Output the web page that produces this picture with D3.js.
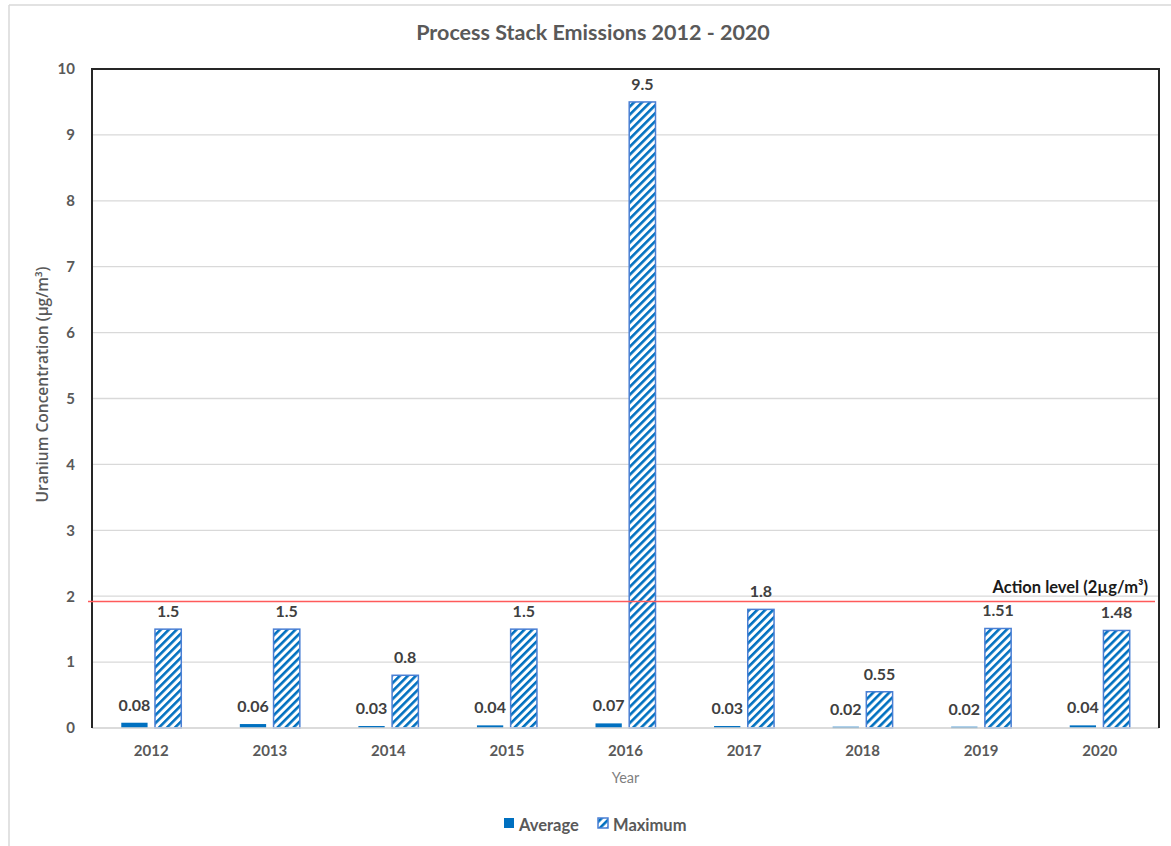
<!DOCTYPE html>
<html>
<head>
<meta charset="utf-8">
<script src="https://cdn.jsdelivr.net/npm/d3@7"></script>
<style>
  body { margin: 0; background: #fff; }
  text { font-family: Lato, "Open Sans", sans-serif; }
</style>
</head>
<body>
<div id="chart"></div>
<script>
// chart data
var years = ["2012", "2013", "2014", "2015", "2016", "2017", "2018", "2019", "2020"];
var averageValues = [0.08, 0.06, 0.03, 0.04, 0.07, 0.03, 0.02, 0.02, 0.04];
var maximumValues = [1.5, 1.5, 0.8, 1.5, 9.5, 1.8, 0.55, 1.51, 1.48];
var seriesNames = ["Average", "Maximum"];
var yTicks = [0, 1, 2, 3, 4, 5, 6, 7, 8, 9, 10];
var actionLevel = 1.92; // where the red line sits in the picture
var actionLabel = "Action level (2µg/m³)";

var W = 1171, H = 846;
var margin = {top: 69, right: 12, bottom: 118, left: 92},
    width = W - margin.left - margin.right,
    height = H - margin.top - margin.bottom;

var svg = d3.select("#chart").append("svg")
    .attr("width", W)
    .attr("height", H);

var defs = svg.append("defs");
var pat = defs.append("pattern")
    .attr("id", "hatch")
    .attr("patternUnits", "userSpaceOnUse")
    .attr("width", 5.66)
    .attr("height", 5.66)
    .attr("patternTransform", "rotate(45)");
pat.append("rect").attr("width", 5.66).attr("height", 5.66).attr("fill", "#fff");
pat.append("rect").attr("width", 2.6).attr("height", 5.66).attr("fill", "#0070C0");

// outer chart frame (only top and left visible)
svg.append("line").attr("x1", 9).attr("x2", W).attr("y1", 5).attr("y2", 5)
    .attr("stroke", "#d9d9d9").attr("stroke-width", 1.5);
svg.append("line").attr("x1", 9).attr("x2", 9).attr("y1", 5).attr("y2", H)
    .attr("stroke", "#d9d9d9").attr("stroke-width", 1.5);

var g = svg.append("g")
    .attr("transform", "translate(" + margin.left + "," + margin.top + ")");

var x0 = d3.scaleBand().domain(years).range([0, width]).padding(0);
var x1 = d3.scaleBand().domain(seriesNames).range([-30, 30]).paddingInner(0.22);
var y = d3.scaleLinear().domain([0, 10]).range([height, 0]);

// gridlines
g.selectAll(".grid")
  .data(yTicks)
  .enter().append("line")
    .attr("x1", 0).attr("x2", width)
    .attr("y1", function(d) { return y(d); })
    .attr("y2", function(d) { return y(d); })
    .attr("stroke", "#d9d9d9").attr("stroke-width", 1.3);

// y tick labels
var yAxis = g.append("g")
    .call(d3.axisLeft(y).tickValues(yTicks).tickSize(0).tickPadding(17));
yAxis.select(".domain").remove();
yAxis.selectAll("text")
    .style("font-family", "Lato, 'Open Sans', sans-serif")
    .style("font-size", "15px").style("font-weight", "bold")
    .attr("fill", "#595959");

// x tick labels
var xAxis = g.append("g")
    .attr("transform", "translate(0," + height + ")")
    .call(d3.axisBottom(x0).tickSize(0).tickPadding(17));
xAxis.select(".domain").remove();
xAxis.selectAll("text")
    .style("font-family", "Lato, 'Open Sans', sans-serif")
    .style("font-size", "15px").style("font-weight", "bold")
    .attr("fill", "#595959");

var rows = years.map(function(yr, i) {
  return {year: yr, Average: averageValues[i], Maximum: maximumValues[i]};
});

var groups = g.selectAll(".yr")
  .data(rows)
  .enter().append("g")
    .attr("transform", function(d) { return "translate(" + (x0(d.year) + x0.bandwidth() / 2) + ",0)"; });

groups.append("rect")
    .attr("x", x1("Average"))
    .attr("width", x1.bandwidth())
    .attr("y", function(d) { return y(d.Average); })
    .attr("height", function(d) { return Math.max(y(0) - y(d.Average), 1.5); })
    .attr("fill", "#0070C0");

groups.append("rect")
    .attr("x", x1("Maximum"))
    .attr("width", x1.bandwidth())
    .attr("y", function(d) { return y(d.Maximum); })
    .attr("height", function(d) { return y(0) - y(d.Maximum); })
    .attr("fill", "url(#hatch)")
    .attr("stroke", "#4a7fd4").attr("stroke-width", 1.5);

// data labels
groups.append("text")
    .attr("x", x1("Average") + x1.bandwidth() / 2)
    .attr("y", function(d) { return y(d.Average) - 12; })
    .attr("text-anchor", "middle")
    .style("font-size", "16px").style("font-weight", "bold")
    .attr("fill", "#404040")
    .text(function(d) { return d.Average; });

groups.append("text")
    .attr("x", x1("Maximum") + x1.bandwidth() / 2)
    .attr("y", function(d) { return y(d.Maximum) - 12; })
    .attr("text-anchor", "middle")
    .style("font-size", "16px").style("font-weight", "bold")
    .attr("fill", "#404040")
    .text(function(d) { return d.Maximum; });

// x axis line
g.append("line")
    .attr("x1", 0).attr("x2", width)
    .attr("y1", y(0)).attr("y2", y(0))
    .attr("stroke", "#d9d9d9").attr("stroke-width", 1.5);

// plot border: top, left, right in black
g.append("path")
    .attr("d", "M0," + y(0) + "V0H" + width + "V" + y(0))
    .attr("fill", "none").attr("stroke", "#262626").attr("stroke-width", 2);

// action level line
g.append("line")
    .attr("x1", -4).attr("x2", width - 4)
    .attr("y1", y(actionLevel)).attr("y2", y(actionLevel))
    .attr("stroke", "#ff5a5a").attr("stroke-width", 1.5);
g.append("text")
    .attr("x", width - 11)
    .attr("y", y(actionLevel) - 8)
    .attr("text-anchor", "end")
    .style("font-size", "16.5px").style("font-weight", "bold")
    .attr("fill", "#1a1a1a")
    .text(actionLabel);

// titles
svg.append("text")
    .attr("x", 593).attr("y", 40)
    .attr("text-anchor", "middle")
    .style("font-size", "21.5px").style("font-weight", "bold")
    .attr("fill", "#595959")
    .text("Process Stack Emissions 2012 - 2020");

svg.append("text")
    .attr("transform", "translate(48," + (margin.top + height / 2 - 14) + ") rotate(-90)")
    .attr("text-anchor", "middle")
    .style("font-family", "'Open Sans', Lato, sans-serif")
    .style("font-size", "15.5px").style("font-weight", "600")
    .attr("fill", "#595959")
    .text("Uranium Concentration (µg/m³)");

svg.append("text")
    .attr("x", margin.left + width / 2).attr("y", 783)
    .attr("text-anchor", "middle")
    .style("font-size", "14.5px")
    .attr("fill", "#7f7f7f")
    .text("Year");

// legend
var legend = svg.append("g").attr("transform", "translate(504,818)");
legend.append("rect").attr("x", 0).attr("y", 0).attr("width", 10).attr("height", 10).attr("fill", "#0070C0");
legend.append("text").attr("x", 15).attr("y", 13)
    .style("font-size", "16.5px").style("font-weight", "bold").attr("fill", "#595959")
    .text(seriesNames[0]);
legend.append("rect").attr("x", 94).attr("y", 0).attr("width", 10).attr("height", 10)
    .attr("fill", "url(#hatch)").attr("stroke", "#4a7fd4").attr("stroke-width", 1.5);
legend.append("text").attr("x", 109).attr("y", 13)
    .style("font-size", "16.5px").style("font-weight", "bold").attr("fill", "#595959")
    .text(seriesNames[1]);
</script>
</body>
</html>
